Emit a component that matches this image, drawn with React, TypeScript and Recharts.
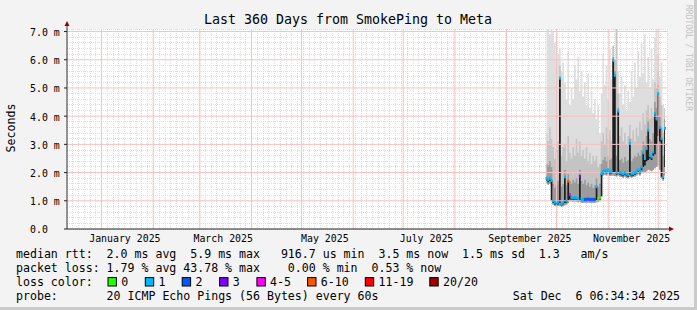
import React from "react"
import { ComposedChart, Area, Line, XAxis, YAxis, CartesianGrid, ReferenceLine } from "recharts"

// days counted from 1 Jan 2025
const days = [
  267, 268, 269, 270, 271, 272, 273, 274, 275, 276,
  277, 278, 279, 280, 281, 282, 283, 284, 285, 286,
  287, 288, 289, 290, 291, 292, 293, 294, 295, 296,
  297, 298, 299, 300, 301, 302, 303, 304, 305, 306,
  307, 308, 309, 310, 311, 312, 313, 314, 315, 316,
  317, 318, 319, 320, 321, 322, 323, 324, 325, 326,
  327, 328, 329, 330, 331, 332, 333, 334, 335, 336,
  337, 338,
]

// median rtt in ms
const median = [
  1.8, 1.75, 1.8, 1.72, 1.0, 0.95, 0.92, 0.95, 5.35, 0.9,
  0.95, 1.85, 1.0, 1.7, 1.22, 1.12, 1.1, 1.12, 1.1, 1.08,
  1.87, 1.05, 1.05, 1.05, 1.05, 1.06, 1.05, 1.05, 1.05, 1.05,
  1.5, 1.08, 1.1, 1.97, 2.05, 2.08, 2.05, 2.1, 2.02, 2.05,
  5.98, 5.45, 2.0, 4.18, 2.0, 1.98, 1.95, 2.0, 1.95, 1.93,
  3.03, 1.95, 1.97, 2.0, 2.05, 2.1, 2.05, 2.2, 2.7, 2.5,
  2.85, 3.5, 2.6, 2.56, 2.73, 4.1, 3.9, 4.8, 3.6, 3.2,
  1.85, 3.57,
]

// loss colour class per point (index into lossColors)
const loss = [
  1, 1, 1, 1, 1, 1, 1, 1, 1, 1,
  1, 1, 1, 5, 4, 1, 1, 1, 1, 1,
  3, 1, 1, 2, 2, 2, 2, 2, 2, 2,
  1, 0, 0, 1, 1, 1, 1, 1, 1, 1,
  1, 1, 1, 1, 1, 1, 1, 1, 1, 1,
  1, 1, 1, 1, 1, 1, 1, 1, 1, 1,
  1, 1, 1, 1, 1, 1, 1, 1, 1, 1,
  1, 1,
]

// bottom of the dense (black) smoke under the median
const darkLo = [
  1.7, 1.66, 1.7, 1.0, 0.92, 0.87, 0.85, 0.87, 0.92, 0.83,
  0.88, 0.92, 0.93, 1.02, 1.05, 1.05, 1.03, 1.05, 1.03, 1.01,
  1.02, 0.98, 0.98, 0.98, 0.98, 0.99, 0.98, 0.98, 0.98, 0.98,
  1.02, 1.01, 1.03, 1.15, 1.97, 2.0, 1.97, 2.02, 1.94, 1.97,
  2.0, 2.0, 1.92, 1.98, 1.92, 1.9, 1.87, 1.92, 1.87, 1.85,
  1.92, 1.87, 1.89, 1.92, 1.97, 2.02, 1.97, 2.08, 2.2, 2.25,
  2.4, 2.45, 2.5, 2.45, 2.6, 2.65, 3.0, 3.3, 3.1, 1.85,
  1.78, 2.2,
]

// lowest ping
const smokeLo = [
  1.6, 1.58, 1.6, 1.55, 0.86, 0.82, 0.8, 0.82, 0.82, 0.79,
  0.82, 0.84, 0.86, 0.92, 0.98, 0.98, 0.97, 0.98, 0.97, 0.95,
  0.96, 0.93, 0.93, 0.94, 0.93, 0.94, 0.93, 0.93, 0.93, 0.93,
  0.95, 0.96, 0.98, 1.85, 1.9, 1.92, 1.9, 1.94, 1.88, 1.9,
  1.9, 1.88, 1.86, 1.9, 1.86, 1.84, 1.82, 1.86, 1.82, 1.8,
  1.84, 1.82, 1.84, 1.86, 1.9, 1.94, 1.9, 1.98, 2.02, 2.0,
  2.05, 2.1, 2.08, 2.05, 2.1, 2.15, 2.2, 2.25, 2.1, 1.8,
  1.72, 1.9,
]

// inner smoke (dark grey)
const smokeNear = [
  2.3, 2.25, 2.4, 2.2, 1.6, 1.45, 1.55, 1.7, 5.4, 1.5,
  1.6, 2.1, 1.55, 1.95, 1.7, 1.6, 1.75, 1.65, 1.8, 1.6,
  2.1, 1.7, 1.6, 1.75, 1.55, 1.65, 1.5, 1.6, 1.45, 1.55,
  1.8, 1.5, 1.6, 2.3, 2.45, 2.55, 2.4, 2.6, 2.45, 2.5,
  6.1, 5.6, 2.6, 4.3, 2.45, 2.5, 2.35, 2.55, 2.4, 2.45,
  3.2, 2.4, 2.5, 2.6, 2.55, 2.7, 2.6, 2.8, 3.1, 3.0,
  3.3, 3.8, 3.2, 3.1, 3.4, 4.5, 4.3, 5.1, 4.0, 3.6,
  2.6, 3.9,
]

// middle smoke (grey)
const smokeMid = [
  3.4, 3.1, 3.6, 3.2, 2.9, 2.5, 2.8, 3.1, 5.8, 2.6,
  2.9, 3.0, 2.4, 3.3, 2.7, 2.5, 2.9, 2.6, 3.2, 2.7,
  3.1, 2.6, 2.8, 2.5, 2.9, 2.4, 2.7, 2.3, 2.6, 2.4,
  2.6, 2.2, 2.3, 3.1, 3.4, 3.0, 3.6, 3.2, 3.5, 3.1,
  6.5, 6.0, 7.1, 4.8, 3.3, 3.6, 3.1, 3.4, 3.0, 3.3,
  3.7, 3.2, 3.5, 3.1, 3.6, 3.3, 3.8, 3.5, 4.1, 3.7,
  4.2, 4.4, 3.9, 4.3, 4.0, 5.2, 5.0, 5.6, 4.7, 4.4,
  3.4, 4.3,
]

// highest ping (light smoke)
const smokeHi = [
  7.1, 7.1, 6.9, 7.1, 7.0, 6.6, 6.0, 6.2, 6.4, 5.6,
  5.9, 5.2, 4.6, 6.3, 4.4, 5.0, 4.6, 5.8, 5.3, 6.1,
  4.9, 5.6, 4.7, 5.2, 4.4, 5.5, 4.3, 4.9, 4.1, 4.6,
  3.9, 4.4, 3.4, 4.8, 6.2, 5.1, 5.8, 4.6, 6.4, 5.3,
  6.5, 6.0, 7.1, 5.6, 4.8, 5.4, 4.4, 5.1, 4.2, 4.9,
  4.5, 5.6, 4.7, 5.9, 5.0, 6.3, 5.4, 6.6, 5.5, 6.9,
  5.2, 6.1, 5.0, 6.4, 5.3, 6.8, 7.1, 6.2, 5.4, 5.9,
  4.4, 4.0,
]

const yTicks = [0, 1, 2, 3, 4, 5, 6, 7]
const monthStarts = [0, 31, 59, 90, 120, 151, 181, 212, 243, 273, 304, 334]
const labelDays = [14, 73, 134, 195, 257, 318]
const monthLabels = ["January 2025", "March 2025", "May 2025", "July 2025", "September 2025", "November 2025"]

const lossColors = ["#26ff00", "#00b8ff", "#0059ff", "#7e00ff", "#ff00ff", "#ff5500", "#ff0000", "#a10000"]
const lossLabels = ["0", "1", "2", "3", "4-5", "6-10", "11-19", "20/20"]
const lossBoxX = [108, 145.3, 182.2, 219.6, 256.9, 307.6, 365.3, 429.8]

const X_START = -20.73
const X_END = 339.27
const Y_MAX = 7.09
const MONO = "'DejaVu Sans Mono', monospace"

const data = days.map((d, i) => ({
  day: d,
  hi: [smokeLo[i], smokeHi[i]],
  mid: [smokeLo[i], smokeMid[i]],
  near: [smokeLo[i], smokeNear[i]],
  dark: [darkLo[i], median[i]],
  median: median[i],
  loss: loss[i],
}))

// grid positions
const minorX: number[] = []
for (let d = X_START + 3.46; d < X_END - 0.5; d += 3.46) minorX.push(d)
const minorY: number[] = []
for (let k = 1; k < 36; k++) if (k % 5 !== 0) minorY.push(k / 5)
const majorY = yTicks.slice(1)

function medianDot(p: any) {
  const { cx, cy, index, payload } = p
  if (cx == null || cy == null) return <g key={index} />
  return <rect key={index} x={cx - 1} y={cy - 1.5} width={2} height={3} fill={lossColors[payload.loss]} />
}

function YTick(p: any) {
  const v = p.payload.value
  return (
    <text x={30} y={p.y + 1} dy="0.35em" fontSize={9.9} fontFamily={MONO} fill="#000">
      {v === 0 ? "0.0" : `${v.toFixed(1)} m`}
    </text>
  )
}

const line1 = "median rtt:  2.0 ms avg  5.9 ms max   916.7 us min  3.5 ms now  1.5 ms sd  1.3   am/s"
const line2 = "packet loss: 1.79 % avg 43.78 % max    0.00 % min  0.53 % now"
const line4 = "probe:       20 ICMP Echo Pings (56 Bytes) every 60s"
const stamp = "Sat Dec  6 06:34:34 2025"

export default function App() {
  const txt = { fontFamily: MONO, fontSize: 11.58, fill: "#000", whiteSpace: "pre" as const }
  return (
    <div style={{ position: "fixed", left: 0, top: 0, width: 697, height: 310, background: "#f3f3f3" }}>
      <div style={{ position: "absolute", left: 67, top: 29, width: 600, height: 200, background: "#fff" }} />
      <div style={{ position: "absolute", left: 0, top: 0 }}>
        <ComposedChart width={697} height={310} data={data} margin={{ top: 29, right: 30, bottom: 0, left: 0 }}>
          <XAxis
            type="number"
            dataKey="day"
            domain={[X_START, X_END]}
            allowDataOverflow
            ticks={labelDays}
            interval={0}
            tickFormatter={(v: number) => monthLabels[labelDays.indexOf(v)]}
            tick={{ fontSize: 9.9, fontFamily: MONO, fill: "#000" }}
            tickLine={false}
            tickSize={0}
            tickMargin={6}
            height={81}
            axisLine={{ stroke: "#222" }}
          />
          <XAxis xAxisId="minor" type="number" dataKey="day" domain={[X_START, X_END]} allowDataOverflow ticks={minorX} interval={0} hide />
          <YAxis
            type="number"
            domain={[0, Y_MAX]}
            allowDataOverflow
            ticks={yTicks}
            interval={0}
            width={67}
            tickSize={3}
            tickLine={{ stroke: "#222" }}
            axisLine={{ stroke: "#333" }}
            tick={<YTick />}
          />
          <YAxis yAxisId="minor" type="number" domain={[0, Y_MAX]} allowDataOverflow ticks={minorY} interval={0} hide />
          <CartesianGrid xAxisId="minor" yAxisId="minor" stroke="#dedede" strokeDasharray="1 1" shapeRendering="crispEdges" />
          <Area type="step" dataKey="hi" stroke="none" fill="#dedede" fillOpacity={1} isAnimationActive={false} />
          <Area type="step" dataKey="mid" stroke="none" fill="#c4c4c4" fillOpacity={1} isAnimationActive={false} />
          <Area type="step" dataKey="near" stroke="none" fill="#9c9c9c" fillOpacity={1} isAnimationActive={false} />
          <Area type="step" dataKey="dark" stroke="none" fill="#1c1c1c" fillOpacity={1} isAnimationActive={false} />
          {majorY.map((v) => (
            <ReferenceLine key={"Y" + v} y={v} stroke="#f7c0c0" strokeWidth={1} />
          ))}
          {monthStarts.map((v) => (
            <ReferenceLine key={"X" + v} x={v} stroke="#f7c0c0" strokeWidth={1} />
          ))}
          <Line dataKey="median" stroke="none" dot={medianDot} activeDot={false} isAnimationActive={false} />
        </ComposedChart>
      </div>
      <svg width={697} height={310} style={{ position: "absolute", left: 0, top: 0, pointerEvents: "none" }}>
        <rect x={694} y={0} width={3} height={310} fill="#cbcbcb" />
        <rect x={0} y={307} width={697} height={3} fill="#cbcbcb" />
        <line x1={67} y1={29} x2={67} y2={25} stroke="#333" />
        <polygon points="64.5,26 69.5,26 67,21" fill="#9a0000" />
        <line x1={667} y1={229} x2={670} y2={229} stroke="#222" />
        <polygon points="669,226.5 669,231.5 674,229" fill="#9a0000" />
        <text x={348} y={24} textAnchor="middle" fontFamily={MONO} fontSize={13.3} fill="#000">
          Last 360 Days from SmokePing to Meta
        </text>
        <text x={14.5} y={128} textAnchor="middle" fontFamily={MONO} fontSize={11.6} fill="#000" transform="rotate(-90 14.5 128)">
          Seconds
        </text>
        <text x={685.5} y={5} fontFamily={MONO} fontSize={8} fill="#c2c2c2" transform="rotate(90 685.5 5)">
          RRDTOOL / TOBI OETIKER
        </text>
        <text x={16} y={257.8} style={txt} xmlSpace="preserve">{line1}</text>
        <text x={16} y={272} style={txt} xmlSpace="preserve">{line2}</text>
        <text x={16} y={286.2} style={txt}>loss color:</text>
        {lossLabels.map((l, i) => (
          <g key={l}>
            <rect x={lossBoxX[i]} y={277.6} width={8.4} height={8.4} fill={lossColors[i]} stroke="#000" strokeWidth={1} />
            <text x={lossBoxX[i] + 13.2} y={286.2} style={txt}>{l}</text>
          </g>
        ))}
        <text x={16} y={300.4} style={txt} xmlSpace="preserve">{line4}</text>
        <text x={512.8} y={300.4} style={txt} xmlSpace="preserve">{stamp}</text>
      </svg>
    </div>
  )
}
